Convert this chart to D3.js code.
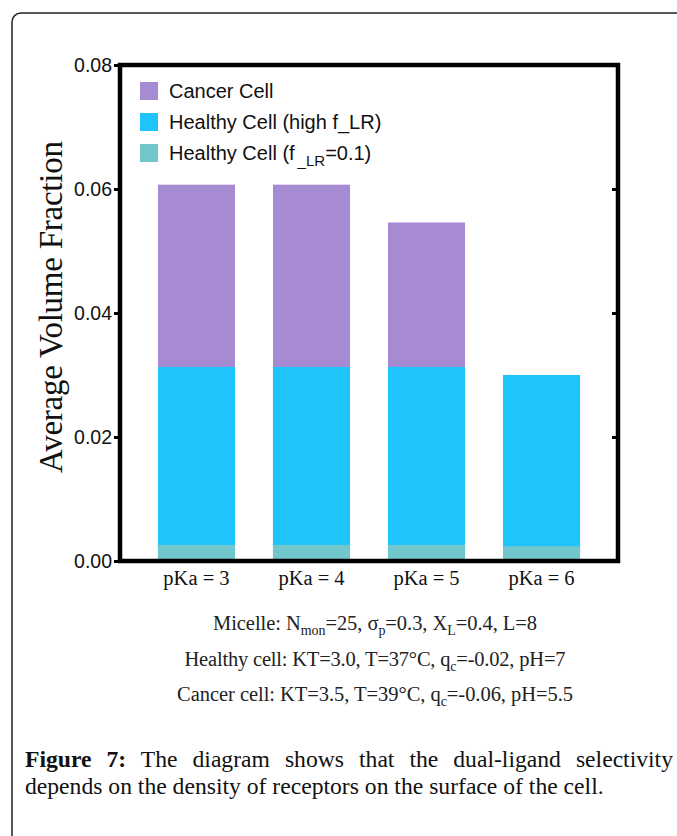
<!DOCTYPE html>
<html>
<head>
<meta charset="utf-8">
<script src="https://cdn.jsdelivr.net/npm/d3@7/dist/d3.min.js"></script>
<style>
  body { margin: 0; background: #fff; }
</style>
</head>
<body>
<div id="chart"></div>
<script>
// values
var categories = ["pKa = 3", "pKa = 4", "pKa = 5", "pKa = 6"];
var cancerCell = [0.0607, 0.0607, 0.0546, 0.0300];
var healthyHigh = [0.0313, 0.0313, 0.0313, 0.0300];
var healthyLow = [0.0026, 0.0026, 0.0026, 0.0024];
var yTicks = [0, 0.02, 0.04, 0.06, 0.08];
var legendNames = ["Cancer Cell", "Healthy Cell (high f_LR)", "Healthy Cell (f"];
var colors = ["#a68bd3", "#1fc4fd", "#72c7cc"];

var W = 677, H = 836;
var plot = {left: 120, right: 618, top: 65, bottom: 561};
var serif = "Liberation Serif, Times New Roman, serif";

var svg = d3.select("#chart")
            .append("svg")
            .attr("width", W)
            .attr("height", H);

// outer figure box (runs off the page right and bottom)
svg.append("rect")
    .attr("x", 12).attr("y", 13)
    .attr("width", 720).attr("height", 900)
    .attr("rx", 9)
    .attr("fill", "none")
    .attr("stroke", "#222")
    .attr("stroke-width", 1.5);

var xScale = d3.scaleBand()
               .domain(categories)
               .range([plot.left, plot.right])
               .paddingInner(0.33)
               .paddingOuter(0.33);

var yScale = d3.scaleLinear()
               .domain([0, 0.08])
               .range([plot.bottom, plot.top]);

// bars overlap, tallest series drawn first
var series = [cancerCell, healthyHigh, healthyLow];
series.forEach(function(vals, i) {
    svg.append("g")
        .selectAll("rect")
        .data(vals)
        .enter()
        .append("rect")
        .attr("x", function(d, j) { return xScale(categories[j]); })
        .attr("y", function(d) { return yScale(d); })
        .attr("width", xScale.bandwidth())
        .attr("height", function(d) { return yScale(0) - yScale(d); })
        .attr("fill", colors[i]);
});

// left axis
var yAxis = svg.append("g")
    .attr("transform", "translate(" + plot.left + ",0)")
    .call(d3.axisLeft(yScale).tickValues(yTicks).tickFormat(d3.format(".2f")).tickSize(6).tickPadding(2));
yAxis.select(".domain").remove();
yAxis.selectAll("line").attr("stroke", "#000").attr("stroke-width", 3);
yAxis.selectAll("text")
    .attr("font-family", "Liberation Sans, Arial, sans-serif")
    .attr("font-size", 19.5)
    .attr("fill", "#111");

// right side ticks point inward
var yRight = svg.append("g")
    .attr("transform", "translate(" + plot.right + ",0)")
    .call(d3.axisLeft(yScale).tickValues(yTicks.slice(1, 4)).tickSize(6).tickFormat(""));
yRight.select(".domain").remove();
yRight.selectAll("line").attr("stroke", "#000").attr("stroke-width", 3);

// bottom labels
var xAxis = svg.append("g")
    .attr("transform", "translate(0," + plot.bottom + ")")
    .call(d3.axisBottom(xScale).tickSize(0).tickPadding(9));
xAxis.select(".domain").remove();
xAxis.selectAll("text")
    .attr("font-family", serif)
    .attr("font-size", 20.5)
    .attr("fill", "#111");

// frame
svg.append("rect")
    .attr("x", plot.left).attr("y", plot.top)
    .attr("width", plot.right - plot.left)
    .attr("height", plot.bottom - plot.top)
    .attr("fill", "none")
    .attr("stroke", "#000")
    .attr("stroke-width", 4.5);

// y label
svg.append("text")
    .attr("transform", "translate(62,307) rotate(-90)")
    .attr("text-anchor", "middle")
    .attr("font-family", serif)
    .attr("font-size", 33)
    .attr("textLength", 332)
    .attr("fill", "#111")
    .text("Average Volume Fraction");

// legend
var legendY = [91, 122, 153];
var leg = svg.append("g");
legendNames.forEach(function(name, i) {
    leg.append("rect")
        .attr("x", 140).attr("y", legendY[i] - 9)
        .attr("width", 18).attr("height", 18)
        .attr("fill", colors[i]);
    var t = leg.append("text")
        .attr("x", 169).attr("y", legendY[i] + 7)
        .attr("font-family", "Liberation Sans, Arial, sans-serif")
        .attr("font-size", 20)
        .attr("fill", "#111")
        .text(name);
    if (i == 2) {
        t.append("tspan").attr("dx", 3).attr("dy", 6).attr("font-size", 15).text("_LR");
        t.append("tspan").attr("dy", -6).text("=0.1)");
    }
});

// parameter notes under the chart
var notes = [
    {y: 630, len: 324, parts: [["Micelle: N"], ["mon", 1], ["=25, σ"], ["p", 1], ["=0.3, X"], ["L", 1], ["=0.4, L=8"]]},
    {y: 666, len: 381, parts: [["Healthy cell: KT=3.0, T=37°C, q"], ["c", 1], ["=-0.02, pH=7"]]},
    {y: 701, len: 396, parts: [["Cancer cell: KT=3.5, T=39°C, q"], ["c", 1], ["=-0.06, pH=5.5"]]}
];
notes.forEach(function(n) {
    var t = svg.append("text")
        .attr("x", 375).attr("y", n.y)
        .attr("text-anchor", "middle")
        .attr("font-family", serif)
        .attr("font-size", 20.5)
        .attr("textLength", n.len)
        .attr("fill", "#222");
    var down = false;
    n.parts.forEach(function(p) {
        var s = t.append("tspan").text(p[0]);
        if (p[1]) { s.attr("dy", 5).attr("font-size", 14); down = true; }
        else if (down) { s.attr("dy", -5); down = false; }
    });
});

// caption: second line sets the font size, first line justified by word spacing
var cap2 = svg.append("text")
    .attr("x", 25).attr("y", 794)
    .attr("font-family", serif)
    .attr("font-size", 20)
    .attr("fill", "#111")
    .text("depends on the density of receptors on the surface of the cell.");
var capSize = 20 * 579 / cap2.node().getComputedTextLength();
cap2.attr("font-size", capSize);

var cap1Parts = ["Figure 7:", " The diagram shows that the dual-ligand selectivity"];
var cap1 = svg.append("text")
    .attr("x", 25).attr("y", 767)
    .attr("font-family", serif)
    .attr("font-size", capSize)
    .attr("fill", "#111");
cap1.append("tspan").attr("font-weight", "bold").text(cap1Parts[0]);
cap1.append("tspan").text(cap1Parts[1]);
var nSpaces = cap1Parts.join("").split(" ").length - 1;
var gap = (648 - cap1.node().getComputedTextLength()) / nSpaces;
cap1.attr("word-spacing", gap);
</script>
</body>
</html>
